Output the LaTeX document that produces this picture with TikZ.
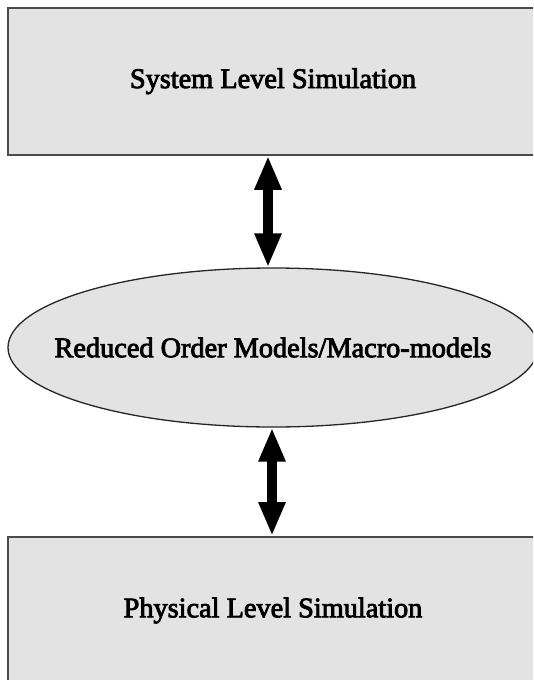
\documentclass[tikz,border=0pt]{standalone}
\usepackage{fontspec}
\setmainfont{Liberation Serif}
\newfontfamily\labelfont[BoldFont=Liberation Serif,BoldFeatures={FakeBold=3}]{Liberation Serif}
\usetikzlibrary{shapes.geometric,arrows.meta}
\definecolor{boxgray}{HTML}{E3E3E3}
\definecolor{edgegray}{HTML}{4A4A4A}
\begin{document}
\begin{tikzpicture}[x=1pt,y=-1pt,
		levelbox/.style={draw=edgegray,line width=2pt,fill=boxgray,minimum width=530pt,minimum height=147pt,inner sep=0pt,font=\labelfont\bfseries\fontsize{28.3}{34}\selectfont},
		modelell/.style={ellipse,draw=black!85,line width=1.3pt,fill=boxgray,minimum width=530pt,minimum height=159pt,inner sep=0pt,font=\labelfont\bfseries\fontsize{28.3}{34}\selectfont},
		bigarrow/.style={line width=9.5pt,{Triangle[length=34pt,width=25pt]}-{Triangle[length=34pt,width=25pt]}}]
	\useasboundingbox (0,0) rectangle (533,680);
	\clip (0,0) rectangle (533,680);
	\node[levelbox] (sys) at (273,81.25) {System Level Simulation};
	\node[modelell] (rom) at (273,347.5) {\makebox[0pt]{Reduced Order Models/Macro-models}};
	\node[levelbox] (phys) at (273,610.5) {Physical Level Simulation};
	\draw[bigarrow] ([xshift=-5pt]sys.south) to ([xshift=-5pt]sys.south |- rom.north);
	\draw[bigarrow] ([xshift=-1pt]rom.south) to ([xshift=-1pt]rom.south |- phys.north);
\end{tikzpicture}
\end{document}
